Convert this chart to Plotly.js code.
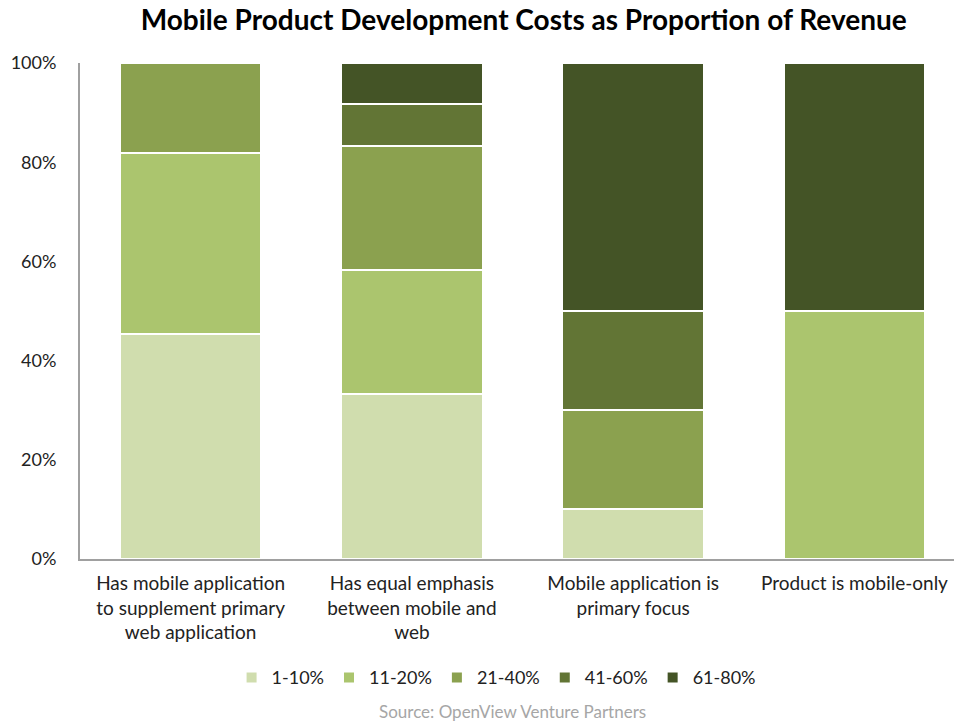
<!DOCTYPE html>
<html>
<head>
<meta charset="utf-8">
<script src="https://cdn.plot.ly/plotly-3.0.1.min.js"></script>
<style>html,body{margin:0;padding:0;background:#fff;}#chart{width:954px;height:721px;}</style>
</head>
<body>
<div id="chart"></div>
<script>
const categories = [
  "Has mobile application<br>to supplement primary<br>web application",
  "Has equal emphasis<br>between mobile and<br>web",
  "Mobile application is<br>primary focus",
  "Product is mobile-only"
];
const seriesNames = ["1-10%", "11-20%", "21-40%", "41-60%", "61-80%"];
const s1_10  = [45.45, 33.33, 10, 0];
const s11_20 = [36.36, 25.0, 0, 50];
const s21_40 = [18.18, 25.0, 20, 0];
const s41_60 = [0, 8.33, 20, 0];
const s61_80 = [0, 8.33, 50, 50];
const yTickVals = [0, 20, 40, 60, 80, 100];
const yTickText = ["0%", "20%", "40%", "60%", "80%", "100%"];
const colors = ["#D0DDAE", "#ABC56E", "#8BA14F", "#627535", "#445426"];
const seriesValues = [s1_10, s11_20, s21_40, s41_60, s61_80];

const font = "Lato, 'Open Sans', sans-serif";
const traces = seriesValues.map((vals, i) => ({
  type: "bar",
  name: seriesNames[i],
  x: categories,
  y: vals,
  marker: { color: colors[i], line: { color: "#ffffff", width: 2 } },
  hoverinfo: "skip"
}));

const layout = {
  width: 954, height: 721,
  barmode: "stack",
  bargap: 0.36,
  paper_bgcolor: "#ffffff",
  plot_bgcolor: "#ffffff",
  margin: { l: 80, r: 0, t: 63, b: 162 },
  font: { family: font, size: 18, color: "#333333" },
  title: {
    text: "<b>Mobile Product Development Costs as Proportion of Revenue</b>",
    font: { family: font, size: 28, color: "#000000", weight: 900 },
    xref: "container", x: 0.549, xanchor: "center",
    yref: "container", y: 0.972, yanchor: "middle"
  },
  xaxis: {
    type: "category",
    range: [-0.5, 3.45],
    showline: true, linecolor: "#a0a0a0", linewidth: 2,
    showgrid: false, zeroline: false, ticks: "",
    ticklabelstandoff: 6,
    tickfont: { family: font, size: 19, color: "#222222" }
  },
  yaxis: {
    range: [0, 100],
    tickvals: yTickVals, ticktext: yTickText,
    showline: true, linecolor: "#a0a0a0", linewidth: 2,
    showgrid: false, zeroline: false, ticks: "",
    ticklabelstandoff: 18,
    tickfont: { family: font, size: 18, color: "#222222" }
  },
  showlegend: true,
  legend: {
    orientation: "h",
    xref: "container", x: 0.52, xanchor: "center",
    yref: "container", y: 0.06, yanchor: "middle",
    font: { family: font, size: 18, color: "#222222" },
    traceorder: "normal",
    itemwidth: 30
  },
  annotations: [{
    text: "Source: OpenView Venture Partners",
    xref: "paper", yref: "paper",
    x: 0.495, y: 0, xanchor: "center",
    yshift: -152, yanchor: "middle",
    showarrow: false,
    font: { family: font, size: 17, color: "#a6a6a6" }
  }]
};

Plotly.newPlot("chart", traces, layout, { displayModeBar: false, staticPlot: true });
</script>
</body>
</html>
